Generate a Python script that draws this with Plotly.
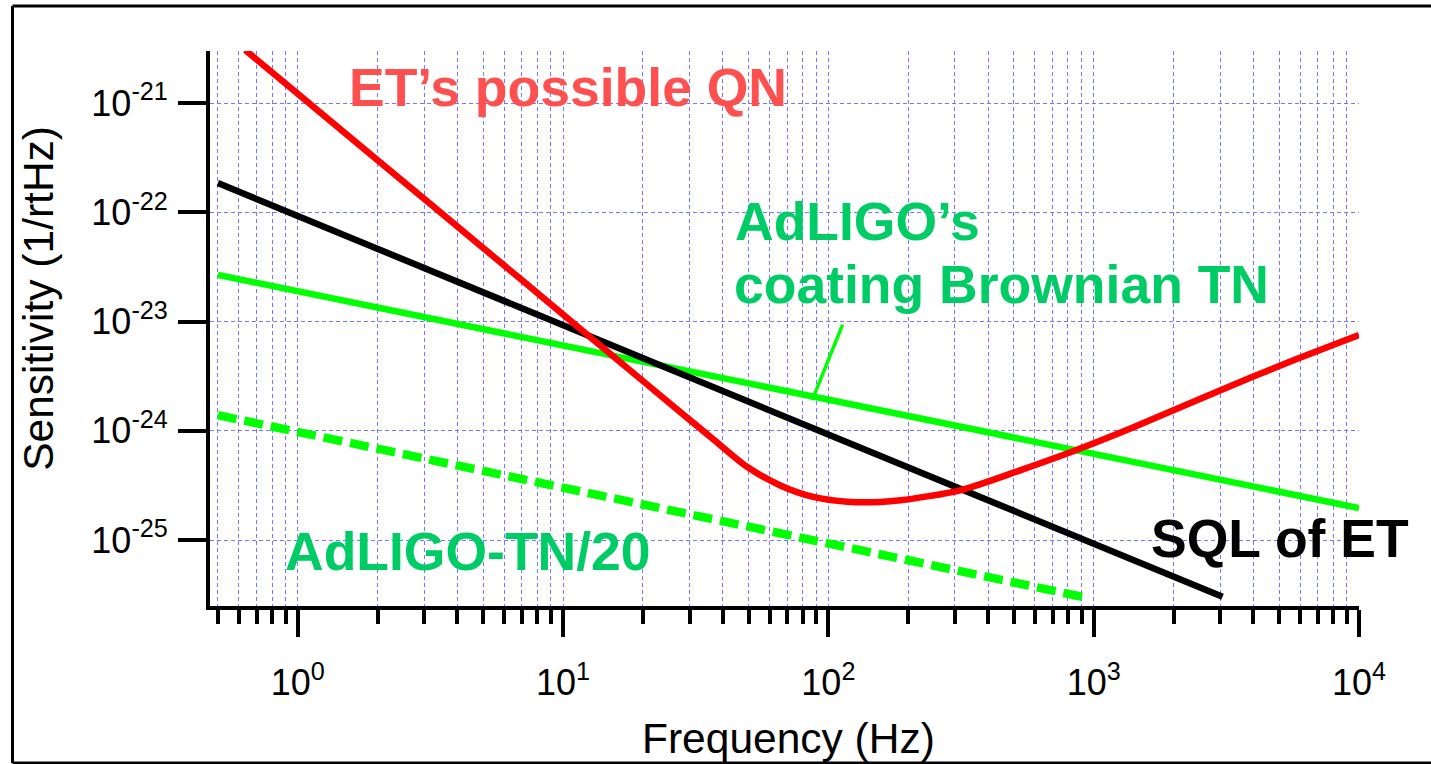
import plotly.graph_objects as go

# ---------------- data ----------------
freq_qn = [0.634, 1, 2, 5, 10, 16.4, 27.7, 36.9, 49.5, 65.9, 87.7, 118, 157, 187,
           314, 515, 817, 1413, 2931, 5200, 10000]
qn_et = [3.05e-21, 1.216e-21, 3.0e-22, 4.71e-23, 1.16e-23, 4.26e-24, 1.48e-24, 8.32e-25,
         4.66e-25, 3.16e-25, 2.48e-25, 2.24e-25, 2.23e-25, 2.31e-25,
         2.85e-25, 4.25e-25, 6.35e-25, 1.076e-24, 2.29e-24, 4.07e-24, 7.52e-24]

freq_sql = [0.5, 1, 10, 100, 1000, 3060]
sql_et = [1.85e-22, 9.25e-23, 9.25e-24, 9.25e-25, 9.25e-26, 3.02e-26]

freq_tn = [0.5, 1, 10, 100, 1000, 10000]
tn_adligo = [2.67e-23, 1.89e-23, 5.97e-24, 1.89e-24, 5.97e-25, 1.96e-25]

freq_tn20 = [0.5, 1, 10, 100, 955]
tn20_adligo = [1.39e-24, 9.77e-25, 3.02e-25, 9.33e-26, 2.94e-26]

x_major_vals = [1, 10, 100, 1000, 10000]
x_major_text = ["10<sup>0</sup>", "10<sup>1</sup>", "10<sup>2</sup>", "10<sup>3</sup>", "10<sup>4</sup>"]
y_major_vals = [1e-25, 1e-24, 1e-23, 1e-22, 1e-21]
y_major_text = ["10<sup>-25</sup>", "10<sup>-24</sup>", "10<sup>-23</sup>", "10<sup>-22</sup>", "10<sup>-21</sup>"]
x_minor_vals = [m * 10 ** e for e in range(-1, 4) for m in range(2, 10) if m * 10 ** e >= 0.5]

# ---------------- layout geometry ----------------
W, H = 1431, 764
L, R, T, B = 210, 1359, 51, 606   # plot area in pixels


def px(x):
    return (x - L) / (R - L)


def py(y):
    return (B - y) / (B - T)


FONT = "Liberation Sans, Arial, Helvetica, sans-serif"
GRID = "rgb(118,118,255)"
GREEN_TXT = "#00cc66"

fig = go.Figure()
fig.add_trace(go.Scatter(x=freq_tn20, y=tn20_adligo, mode="lines",
                         line=dict(color="#00ff00", width=8.5, dash="19px,8px"),
                         name="AdLIGO-TN/20"))
fig.add_trace(go.Scatter(x=freq_tn, y=tn_adligo, mode="lines",
                         line=dict(color="#00ff00", width=6.5),
                         name="AdLIGO's coating Brownian TN"))
fig.add_trace(go.Scatter(x=freq_sql, y=sql_et, mode="lines",
                         line=dict(color="black", width=6.5),
                         name="SQL of ET"))
fig.add_trace(go.Scatter(x=freq_qn, y=qn_et, mode="lines",
                         line=dict(color="#ff0000", width=6.5, shape="spline", smoothing=0.7),
                         name="ET's possible QN"))

axis_common = dict(
    type="log", showline=True, linewidth=4, linecolor="black",
    ticks="outside", tickwidth=4, tickcolor="black",
    showgrid=True, gridcolor=GRID, gridwidth=1, griddash="4px,3px",
    zeroline=False, tickfont=dict(family=FONT, size=36, color="black"),
    tickmode="array", mirror=False,
)

fig.update_xaxes(**axis_common, range=[-0.3307, 4.0],
                 tickvals=x_major_vals, ticktext=x_major_text, ticklen=27,
                 ticklabelstandoff=15,
                 minor=dict(tickvals=x_minor_vals, ticks="outside", ticklen=14, tickwidth=4,
                            tickcolor="black", showgrid=True, gridcolor=GRID, gridwidth=1,
                            griddash="4px,3px"))
fig.update_yaxes(**axis_common, range=[-25.604, -20.524],
                 tickvals=y_major_vals, ticktext=y_major_text, ticklen=28,
                 ticklabelstandoff=3)

ann = []
LBL = 53.5


def label(text, x, y_base, color, size=LBL, bold=True):
    # y_base = baseline in pixels; anchor at box middle
    centre = y_base - 0.3465 * size
    return dict(text=f"<b>{text}</b>" if bold else text, xref="paper", yref="paper",
                x=px(x), y=py(centre), xanchor="left", yanchor="middle", showarrow=False,
                font=dict(family=FONT, size=size, color=color), borderpad=0)


ann.append(label("ET’s possible QN", 348, 106, "#ff5050"))
ann.append(label("AdLIGO’s", 734, 240, GREEN_TXT))
ann.append(label("coating Brownian TN", 733, 303, GREEN_TXT))
ann.append(label("AdLIGO-TN/20", 284, 570, GREEN_TXT))
ann.append(label("SQL of ET", 1150, 557, "black"))

# callout from label to the coating-noise curve
ann.append(dict(text="", x=1.939, y=-23.719, xref="x", yref="y", showarrow=True,
                arrowhead=0, arrowwidth=3.5, arrowcolor="#00ff00", ax=31, ay=-77,
                axref="pixel", ayref="pixel", standoff=0, startstandoff=0))

# axis titles
TF = 42.5
ann.append(dict(text="Frequency (Hz)", xref="paper", yref="paper", x=px(788),
                y=py(753 - 0.3465 * TF), xanchor="center", yanchor="middle", showarrow=False,
                font=dict(family=FONT, size=TF, color="black")))
ann.append(dict(text="Sensitivity (1/rtHz)", xref="paper", yref="paper", x=px(53 - 0.3465 * TF),
                y=py(298.5), xanchor="center", yanchor="middle", textangle=-90, showarrow=False,
                font=dict(family=FONT, size=TF, color="black")))

# outer frame (left, top, bottom edges; right edge lies outside the picture)
frame = dict(type="line", xref="paper", yref="paper", line=dict(color="black", width=3),
             layer="above")
shapes = [
    dict(frame, x0=px(12.5), x1=px(12.5), y0=py(763), y1=py(6)),
    dict(frame, x0=px(12.5), x1=px(W + 5), y0=py(6), y1=py(6)),
    dict(frame, x0=px(12.5), x1=px(W + 5), y0=py(763), y1=py(763)),
]

fig.update_layout(
    width=W, height=H, autosize=False,
    margin=dict(l=L, r=W - R, t=T, b=H - B, pad=0),
    paper_bgcolor="white", plot_bgcolor="white",
    showlegend=False, annotations=ann, shapes=shapes,
)

fig.write_html("out.html", config={"displayModeBar": False},
               post_script="document.body.style.margin='0px';"
                           "document.body.style.overflow='hidden';")
